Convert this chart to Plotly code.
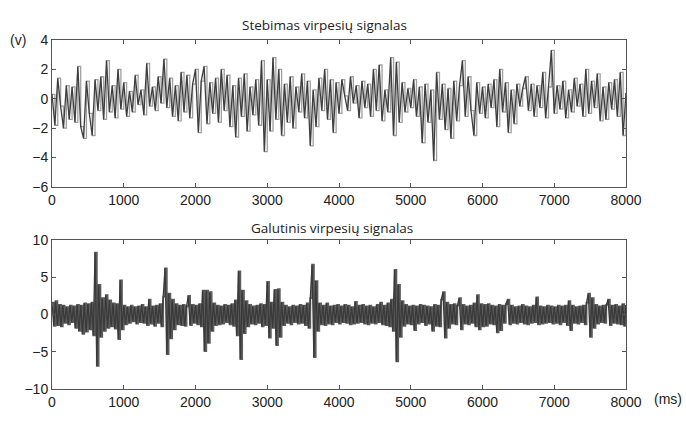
import plotly.graph_objects as go
from plotly.subplots import make_subplots

# ---- data ----
top_step_ms = 40
top_signal = [
    0.3, -1.8, 1.4, -0.5, -2.0, 0.9, -1.4, 0.8, -1.6, 2.2, -1.9, -2.7, 1.2, -1.0, -2.5, 1.3, -0.8, 1.5, -1.4, 2.6, -0.9, 0.9, -1.3, 2.0, -0.7,
    1.1, -1.2, 0.5, -0.9, 1.6, -0.4, 0.6, -1.1, 2.4, -0.5, 0.8, -0.8, 1.5, -0.3, 2.7, -0.6, 1.4, -1.2, 0.9, -1.5, 1.8, -0.9, 1.6, -1.3, 1.0,
    2.0, -2.3, 1.2, 2.2, -1.7, 1.1, -1.0, 1.4, -1.6, 2.0, -0.8, 1.6, -1.9, 0.9, -2.6, 1.4, -1.2, 1.7, -2.2, 0.8, -1.1, 1.3, -1.8, 2.6, -3.6,
    1.3, -2.2, 2.8, -1.4, 2.0, -2.5, 1.0, -1.6, 1.5, -2.0, 0.8, -0.9, 1.7, -1.3, 1.2, -3.2, 0.6, -1.9, 1.4, -0.8, 2.0, -1.4, 1.3, -2.3, 1.1,
    -1.0, 1.3, 0.2, -0.8, 1.5, -0.3, 0.9, -1.3, 1.2, -0.6, 1.0, -1.2, 2.0, -0.8, 2.3, -1.5, 0.6, -0.9, 2.8, -2.5, 2.5, -1.6, 1.1, -0.9, 0.7,
    -0.6, 1.3, -1.2, 0.8, -3.0, 1.0, -1.6, 0.6, -4.2, 1.8, -1.4, 1.0, -2.1, 0.7, -2.7, 1.2, -1.5, 0.9, 2.6, -1.2, 1.5, -0.8, -2.5, 1.1, -1.0,
    0.8, -1.3, 1.0, -0.6, 1.3, -1.9, 2.0, -0.9, 1.1, -2.3, 0.6, -1.7, 1.0, -0.5, 0.7, 1.5, -0.8, 1.0, -1.2, 0.9, -0.6, 1.8, -1.3, 0.8, 3.3,
    -1.0, 0.9, -0.7, 1.2, -1.3, 0.6, -0.9, 1.4, -0.5, 1.0, -1.2, 2.0, -1.0, 1.2, -0.6, 1.7, -1.5, 0.8, -1.4, 1.1, -0.7, 1.3, -1.2, 1.8, -2.5,
    0.4,
]

bottom_step_ms = 25
bottom_signal = [
    1.6, -1.5, 1.8, -1.4, 1.3, -1.6, 1.2, -1.1, 1.0, -1.3, 1.2, -1.0, 1.1, -1.8, 1.3, -2.2, 1.2, -2.6, 1.5, -2.3,
    1.4, -2.0, 1.6, -2.8, 8.3, -6.9, 4.0, -3.0, 2.2, -2.2, 2.6, -1.8, 1.9, -1.6, 1.5, -1.9, 1.4, -3.3, 4.6, -2.0,
    1.2, -1.3, 1.0, -1.1, 1.2, -0.9, 1.0, -1.2, 1.1, -1.0, 1.3, -1.1, 1.0, -1.4, 2.0, -1.2, 1.1, -1.5, 1.2, -1.1,
    1.4, -1.6, 2.4, 6.2, -5.3, 2.8, -3.2, 2.0, -2.0, 1.4, -1.3, 1.2, -1.4, 1.3, -1.5, 1.1, 2.5, -1.4, 1.3, -1.1,
    1.2, -1.3, 1.4, -1.6, 3.2, -4.9, 3.2, -3.8, 3.0, -2.2, 1.5, -1.4, 1.2, -1.3, 1.1, -1.2, 1.3, -1.0, 1.2, -1.3,
    1.4, -1.5, 1.9, -2.8, 5.8, -6.0, 3.2, -2.5, 1.8, -1.6, 1.3, -1.2, 1.1, -1.3, 1.2, -1.1, 1.4, -1.6, 1.3, -1.4,
    4.4, -3.1, 1.6, -1.8, 3.3, -4.1, 3.4, -3.0, 1.6, -1.4, 1.2, -1.1, 1.0, -1.3, 1.2, -1.0, 1.1, -1.2, 1.3, -1.1,
    1.2, -1.4, 1.5, -1.8, 2.2, 6.7, -5.7, 4.5, -2.2, 1.5, -1.3, 1.2, -1.4, 1.5, -1.2, 1.1, -1.3, 1.2, -1.0, 1.3,
    -1.2, 1.1, -1.0, 1.3, -1.1, 1.2, -1.3, 1.0, -1.2, 1.7, -1.1, 1.2, -1.0, 1.3, -1.2, 1.1, -1.3, 1.2, -1.1, 1.0,
    -1.2, 1.3, -1.0, 1.6, -1.3, 1.2, -1.4, 1.5, -1.6, 2.0, -2.2, 6.0, -6.3, 4.0, -3.0, 1.8, -1.5, 1.3, -1.2, 1.1,
    -1.3, 1.2, -2.1, 1.1, -1.2, 1.3, -1.0, 1.2, -1.4, 1.1, -1.2, 1.0, -2.2, 1.3, -1.5, 1.2, -1.6, 2.0, 3.0, -3.1,
    1.6, -1.8, 1.3, -1.2, 1.4, -1.3, 1.2, 2.2, -2.0, 1.3, -1.2, 1.1, -1.3, 1.2, -1.1, 1.5, -1.6, 2.6, -2.0, 1.4,
    -1.6, 1.3, -1.5, 1.4, -1.2, 1.2, -1.3, 1.1, -2.4, 1.3, -2.1, 1.2, -1.1, 1.4, 2.0, -1.3, 1.2, -1.1, 1.0, -1.2,
    1.1, -1.0, 1.3, -1.2, 1.1, -1.3, 1.0, -1.1, 1.2, -1.0, 2.3, -1.3, 1.1, -1.2, 1.0, -1.1, 1.2, -1.0, 1.1, -1.2,
    1.0, -1.1, 1.2, -1.3, 1.1, -1.0, 1.2, -1.4, 1.8, -2.1, 1.2, -1.1, 1.0, -1.2, 1.1, -1.0, 1.2, -1.3, 1.6, 2.8,
    -3.0, 2.2, -1.8, 1.3, -1.2, 1.1, -1.0, 1.2, -1.1, 1.3, 2.0, -1.4, 1.2, -1.1, 1.3, -1.2, 1.1, -1.3, 1.4, -1.5,
    1.3,
]

top_title = "Stebimas virpesių signalas"
bottom_title = "Galutinis virpesių signalas"
x_ticks = [0, 1000, 2000, 3000, 4000, 5000, 6000, 7000, 8000]
top_y_ticks = [-6, -4, -2, 0, 2, 4]
bottom_y_ticks = [-10, -5, 0, 5, 10]

top_time = [i * top_step_ms for i in range(len(top_signal))]
bottom_time = [i * bottom_step_ms for i in range(len(bottom_signal))]

# ---- figure ----
W, H = 686, 422
ml, mr, mt, mb = 52, 60, 40, 21
ph = H - mt - mb

fig = make_subplots(rows=2, cols=1)
# lighter step rendering underneath, darker linear trace on top (same data)
fig.add_trace(go.Scatter(x=top_time, y=top_signal, mode="lines",
                         line=dict(color="#a0a0a0", width=1.3, shape="hv", simplify=False),
                         showlegend=False, hoverinfo="skip"), row=1, col=1)
fig.add_trace(go.Scatter(x=top_time, y=top_signal, mode="lines",
                         line=dict(color="#3e3e3e", width=1.3, simplify=False),
                         showlegend=False), row=1, col=1)
fig.add_trace(go.Scatter(x=bottom_time, y=bottom_signal, mode="lines",
                         line=dict(color="#5c5c5c", width=1.8, shape="hv", simplify=False),
                         showlegend=False, hoverinfo="skip"), row=2, col=1)
fig.add_trace(go.Scatter(x=bottom_time, y=bottom_signal, mode="lines",
                         line=dict(color="#3a3a3a", width=1.3, simplify=False),
                         showlegend=False), row=2, col=1)

axis_common = dict(showline=True, mirror="allticks", linecolor="#555555", linewidth=1,
                   ticks="inside", ticklen=4, tickcolor="#555555", showgrid=False,
                   zeroline=False, tickfont=dict(family="Liberation Sans, Arial", size=14, color="#222222"))

fig.update_xaxes(range=[0, 8000], tickvals=x_ticks, ticktext=[str(v) for v in x_ticks], **axis_common)
fig.update_yaxes(**axis_common)
fig.update_yaxes(range=[-6, 4], tickvals=top_y_ticks, row=1, col=1)
fig.update_yaxes(range=[-10, 10], tickvals=bottom_y_ticks, row=2, col=1)

fig.update_layout(
    width=W, height=H,
    margin=dict(l=ml, r=mr, t=mt, b=mb),
    paper_bgcolor="white", plot_bgcolor="white",
    xaxis=dict(domain=[0, 1]),
    yaxis=dict(domain=[(H - mb - 192) / ph, 1]),
    xaxis2=dict(domain=[0, 1]),
    yaxis2=dict(domain=[0, (H - mb - 247) / ph]),
)

title_font = dict(family="Open Sans, Noto Sans", size=13.5, color="#222222")
lab_font = dict(family="Liberation Sans, Arial", size=14, color="#222222")
fig.add_annotation(text=top_title, xref="paper", yref="paper", x=0.475, y=1 + 16 / ph,
                   showarrow=False, font=title_font, xanchor="center", yanchor="middle")
fig.add_annotation(text=bottom_title, xref="paper", yref="paper", x=0.487,
                   y=(H - mb - 234) / ph, showarrow=False, font=title_font,
                   xanchor="center", yanchor="middle")
fig.add_annotation(text="(v)", xref="paper", yref="paper", x=-44 / 574, y=1,
                   showarrow=False, font=lab_font, xanchor="left", yanchor="middle")
fig.add_annotation(text="(ms)", xref="paper", yref="paper", x=1 + 26 / 574, y=-10 / ph,
                   showarrow=False, font=lab_font, xanchor="left", yanchor="middle")

fig.write_html("out.html")
